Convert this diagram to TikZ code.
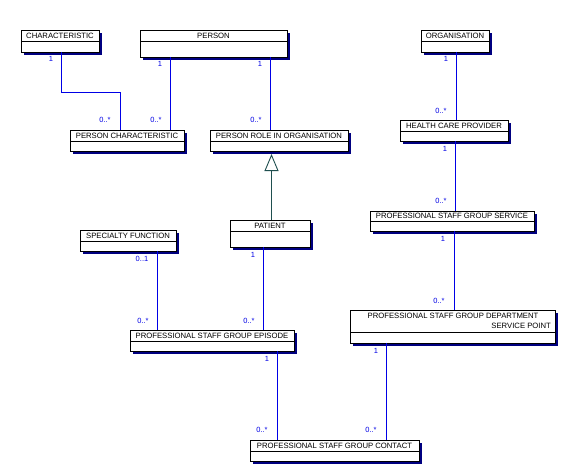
\documentclass[tikz,border=0pt]{standalone}
\usepackage{fontspec}
\setmainfont{Liberation Sans}
\usetikzlibrary{shadows,arrows.meta}
\definecolor{navyshadow}{HTML}{000080}
\definecolor{assocblue}{HTML}{0000E6}
\definecolor{genteal}{HTML}{1F4F4F}
\tikzset{
  cls/.style={draw=black, fill=white, line width=0.8pt, inner sep=0pt, outer sep=0pt,
    drop shadow={shadow xshift=3pt, shadow yshift=-3pt, fill=navyshadow, opacity=1}},
  sepline/.style={draw=black, line width=0.8pt},
  ttl/.style={font=\fontsize{7.7}{9}\selectfont, inner sep=0pt, text=black},
  mult/.style={font=\fontsize{7.5}{8}\selectfont, inner sep=0pt, text=assocblue},
  assoc/.style={draw=assocblue, line width=0.9pt},
  gen/.style={draw=genteal, line width=0.9pt, -{Triangle[open, fill=white, length=17pt, width=14pt]}}
}
\newcommand\umlbox[7]{%
  \node[cls, minimum width={(#4-#2)*1pt}, minimum height={(#5-#3)*1pt}] (#1) at ({(#2+#4)/2},{(#3+#5)/2}) {};
  \draw[sepline] (#2,#6) -- (#4,#6);
  \node[ttl] (#1-t) at ({(#2+#4)/2},{(#3+#6)/2}) {#7};
}
\begin{document}
\begin{tikzpicture}[x=1pt, y=-1pt]
\useasboundingbox[fill=white] (0,0) rectangle (569,475);

% classes
\umlbox{ch}{21}{30}{99}{52}{41}{CHARACTERISTIC}
\umlbox{person}{140}{30}{287}{57}{41}{PERSON}
\umlbox{org}{421}{30}{489}{52}{41}{ORGANISATION}
\umlbox{pc}{70}{130}{184}{151}{141}{PERSON CHARACTERISTIC}
\umlbox{prio}{210}{130}{348}{151}{141}{PERSON ROLE IN ORGANISATION}
\umlbox{hcp}{400}{120}{508}{141}{131}{HEALTH CARE PROVIDER}
\umlbox{psgs}{370}{211}{534}{231}{221}{PROFESSIONAL STAFF GROUP SERVICE}
\umlbox{sf}{80}{230}{176}{251}{241}{SPECIALTY FUNCTION}
\umlbox{patient}{230}{220}{310}{247}{231}{PATIENT}
\umlbox{psge}{130}{330}{294}{351}{341}{PROFESSIONAL STAFF GROUP EPISODE}
\umlbox{psgc}{250}{440}{419}{461}{451}{PROFESSIONAL STAFF GROUP CONTACT}
% two-line class
\node[cls, minimum width=205pt, minimum height=33pt] (psgdsp) at (452.5,326.5) {};
\draw[sepline] (350,332) -- (555,332);
\node[ttl] (psgdsp-t1) at (453,315.7) {PROFESSIONAL STAFF GROUP DEPARTMENT};
\node[ttl, anchor=east] (psgdsp-t2) at (551,325.7) {SERVICE POINT};

% connector x positions
\coordinate (k1) at (61,92);
\coordinate (k2) at (120,92);
\coordinate (xa) at (170,0);
\coordinate (xb) at (270,0);
\coordinate (xc) at (456,0);
\coordinate (xd) at (455,0);
\coordinate (xe) at (454,0);
\coordinate (xf) at (157,0);
\coordinate (xg) at (263,0);
\coordinate (xh) at (271.5,0);
\coordinate (xi) at (277,0);
\coordinate (xj) at (386,0);
\coordinate (gtip) at (271.5,154);

% associations
\draw[assoc] (ch.south -| k1) -- (k1) -- (k2) -- (pc.north -| k2);
\draw[assoc] (person.south -| xa) -- (pc.north -| xa);
\draw[assoc] (person.south -| xb) -- (prio.north -| xb);
\draw[assoc] (org.south -| xc) -- (hcp.north -| xc);
\draw[assoc] (hcp.south -| xd) -- (psgs.north -| xd);
\draw[assoc] (psgs.south -| xe) -- (psgdsp.north -| xe);
\draw[assoc] (sf.south -| xf) -- (psge.north -| xf);
\draw[assoc] (patient.south -| xg) -- (psge.north -| xg);
\draw[assoc] (psge.south -| xi) -- (psgc.north -| xi);
\draw[assoc] (psgdsp.south -| xj) -- (psgc.north -| xj);
% generalization
\draw[gen] (patient.north -| xh) -- (gtip);

% multiplicities
\node[mult] (m1) at (51,59) {1};
\node[mult] (m2) at (105,120) {0..*};
\node[mult] (m3) at (160,64) {1};
\node[mult] (m4) at (156,120) {0..*};
\node[mult] (m5) at (260,64) {1};
\node[mult] (m6) at (256,120) {0..*};
\node[mult] (m7) at (446,59) {1};
\node[mult] (m8) at (441,111) {0..*};
\node[mult] (m9) at (445,149) {1};
\node[mult] (m10) at (441,201) {0..*};
\node[mult] (m11) at (443,239) {1};
\node[mult] (m12) at (439,301) {0..*};
\node[mult] (m13) at (142,259) {0..1};
\node[mult] (m14) at (143,321) {0..*};
\node[mult] (m15) at (253,255) {1};
\node[mult] (m16) at (249,321) {0..*};
\node[mult] (m17) at (267,359) {1};
\node[mult] (m18) at (262,430) {0..*};
\node[mult] (m19) at (376,351) {1};
\node[mult] (m20) at (371,430) {0..*};
\end{tikzpicture}
\end{document}
